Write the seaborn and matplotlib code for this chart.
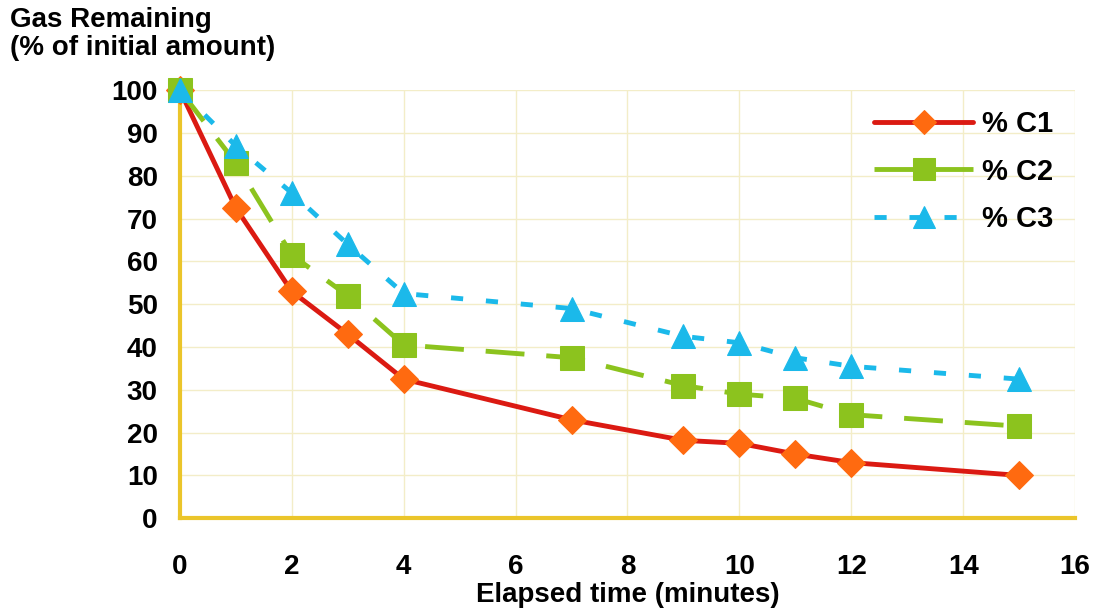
import pandas as pd
import matplotlib
matplotlib.use('Agg')
import matplotlib.pyplot as plt
import seaborn as sns

# Data
minutes = [0, 1, 2, 3, 4, 7, 9, 10, 11, 12, 15]
c1 = [100, 72.5, 53, 43, 32.5, 23, 18.2, 17.5, 15, 13, 10]
c2 = [100, 83, 61.5, 52, 40.5, 37.5, 31, 29, 28, 24.2, 21.5]
c3 = [100, 87, 76, 64, 52.5, 49, 42.5, 41, 37.5, 35.5, 32.5]
series_names = ['% C1', '% C2', '% C3']

sns.set_style('white')
plt.rcParams['font.family'] = ['Liberation Sans', 'DejaVu Sans']
plt.rcParams['font.weight'] = 'bold'
plt.rcParams['text.color'] = 'black'
plt.rcParams['axes.labelcolor'] = 'black'

df = pd.DataFrame({'minutes': minutes, '% C1': c1, '% C2': c2, '% C3': c3})
long_df = df.melt(id_vars='minutes', var_name='series', value_name='remaining')

axis_yellow = '#EBC52A'
grid_yellow = '#F3EDC8'
fs = 20

fig = plt.figure(figsize=(10.97, 6.14), dpi=100)
ax = fig.add_axes([0.164, 0.156, 0.816, 0.697])

styles = {
    '% C1': dict(color='#DB1A12', marker='D', markersize=14, markerfacecolor='#FF6A10',
                 markeredgecolor='#FF6A10', linewidth=3.5, linestyle='-'),
    '% C2': dict(color='#8CC31E', marker='s', markersize=17, markerfacecolor='#8CC31E',
                 markeredgecolor='#8CC31E', linewidth=3.5, linestyle=(0, (8, 4.5))),
    '% C3': dict(color='#1BB9EA', marker='^', markersize=17, markerfacecolor='#1BB9EA',
                 markeredgecolor='#1BB9EA', linewidth=3.5, linestyle=(0, (2.5, 4.7))),
}

for name in series_names:
    sub = long_df[long_df['series'] == name]
    sns.lineplot(data=sub, x='minutes', y='remaining', ax=ax, label=name,
                 clip_on=False, zorder=3, **styles[name])

ax.set_xlim(0, 16)
ax.set_ylim(0, 100)
ax.set_xticks(range(0, 17, 2))
ax.set_yticks(range(0, 101, 10))
ax.grid(True, color=grid_yellow, linewidth=1)
for side in ['top', 'right']:
    ax.spines[side].set_visible(False)
for side in ['left', 'bottom']:
    ax.spines[side].set_color(axis_yellow)
    ax.spines[side].set_linewidth(3)
ax.tick_params(axis='both', colors=axis_yellow, length=6, width=2, labelcolor='black',
               labelsize=fs)
ax.tick_params(axis='y', pad=10)
ax.tick_params(axis='x', pad=20)

ax.set_xlabel('Elapsed time (minutes)', fontsize=fs, fontweight='bold', labelpad=1)
ax.set_ylabel('')
fig.text(0.009, 0.988, 'Gas Remaining\n(% of initial amount)', fontsize=fs,
         fontweight='bold', ha='left', va='top', linespacing=1.08)

leg = ax.legend(loc='upper right', bbox_to_anchor=(1.005, 1.015), frameon=False,
                fontsize=21, handlelength=3.4, handletextpad=0.3, labelspacing=0.67,
                markerscale=0.9)

fig.savefig('out.png', dpi=100)
